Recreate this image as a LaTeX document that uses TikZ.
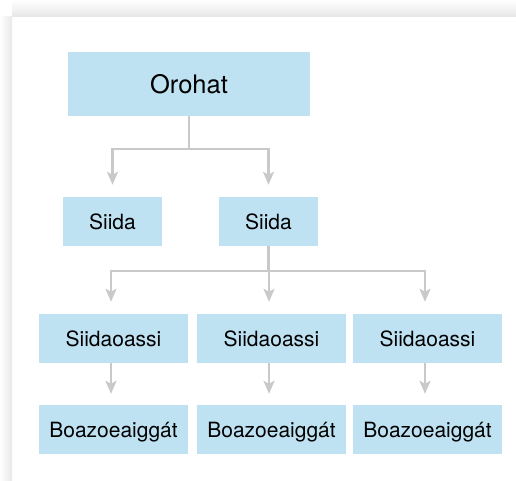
\documentclass[tikz,border=0pt]{standalone}
\usepackage{fontspec}
\setmainfont{TeX Gyre Heros}
\usetikzlibrary{arrows.meta}
\definecolor{boxblue}{HTML}{BFE2F2}
\definecolor{linegray}{HTML}{C9C9C9}
\tikzset{
  box/.style={fill=boxblue, inner sep=0pt, text height=15pt, text depth=0pt,
    minimum height=49pt, font=\fontsize{21}{25}\selectfont},
  link/.style={draw=linegray, line width=2.4pt},
  arr/.style={link, -{Stealth[length=13pt,width=11pt,inset=3pt]}, shorten >=12pt},
}
\begin{document}
\begin{tikzpicture}[x=1pt,y=-1pt]
  \useasboundingbox (0,0) rectangle (516,480);
  % panel shadow
  \shade[top color=white, bottom color=black!9] (12,0) rectangle (516,16);
  \shade[left color=white, right color=black!9] (0,16) rectangle (12,480);
  \node[box, minimum width=242pt, minimum height=64pt, text height=18.5pt,
    font=\fontsize{25.5}{30}\selectfont] (oro) at (189,84) {Orohat};
  \node[box, minimum width=99pt] (siida1) at (112.5,221.5) {Siida};
  \node[box, minimum width=99pt] (siida2) at (268.5,221.5) {Siida};
  \foreach \n/\x in {1/113.5, 2/271.5, 3/427.5} {
    \node[box, minimum width=149pt] (oassi\n) at (\x,338.5) {Siidaoassi};
    \node[box, minimum width=149pt] (eaig\n) at (\x,429.5) {Boazoeaiggát};
  }
  % connectors
  \draw[link] (oro.south) -- ++(0,33) coordinate (fork1);
  \draw[arr] (fork1) -| (siida1.north);
  \draw[arr] (fork1) -| (siida2.north);
  \draw[link] (siida2.south) -- ++(0,25) coordinate (fork2);
  \foreach \n in {1,2,3} {
    \draw[arr] (fork2) -| ([xshift=-2.5pt]oassi\n.north);
    \draw[arr, shorten >=11pt] ([xshift=-2.5pt]oassi\n.south) -- ([xshift=-2.5pt]eaig\n.north);
  }
\end{tikzpicture}
\end{document}
